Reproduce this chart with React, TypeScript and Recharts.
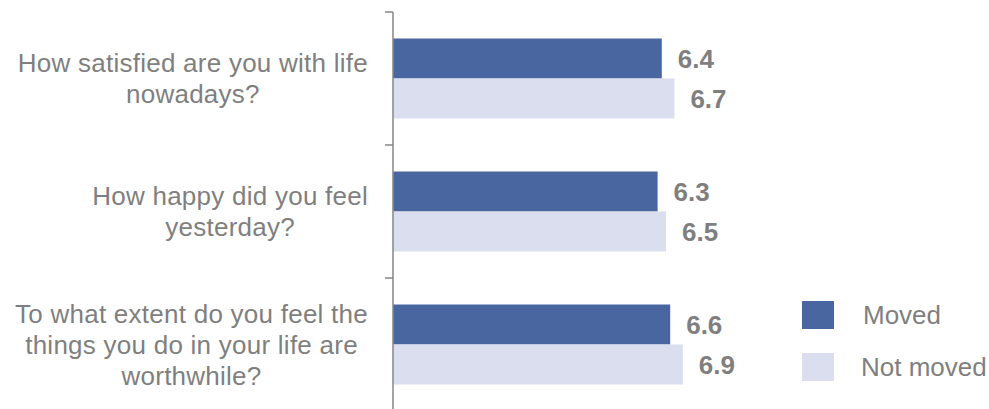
import React from "react";
import { BarChart, Bar, XAxis, YAxis, LabelList, Legend } from "recharts";

const categories = [
  "How satisfied are you with life\nnowadays?",
  "How happy did you feel\nyesterday?",
  "To what extent do you feel the\nthings you do in your life are\nworthwhile?",
];
const movedValues = [6.4, 6.3, 6.6];
const notMovedValues = [6.7, 6.5, 6.9];
const seriesNames = ["Moved", "Not moved"];

const data = categories.map((q, i) => ({ q, moved: movedValues[i], notMoved: notMovedValues[i] }));

const W = 989;
const H = 420;
const MARGIN = { top: 12, right: 176, bottom: 9, left: 0 };
const AXIS_W = 393;
const FONT = "'Liberation Sans', Arial, sans-serif";
const TEXT = "#7f7f7f";
const AXIS = "#868686";
const C_MOVED = "#4a66a0";
const C_NOT = "#dadeef";
const FS = 26;
const LS = 0.25;
const LH = 31;

let ctx: CanvasRenderingContext2D | null = null;
function measure(s: string) {
  if (!ctx) ctx = document.createElement("canvas").getContext("2d");
  if (!ctx) return s.length * FS * 0.5;
  ctx.font = `${FS}px ${FONT}`;
  return ctx.measureText(s).width + LS * s.length;
}

const band = (H - MARGIN.top - MARGIN.bottom) / categories.length;

const CatTick = (props: any) => {
  const { x, y, payload, index } = props;
  const lines = String(payload.value).split("\n");
  const maxW = Math.max(...lines.map(measure));
  const right = x - 25;
  const cx = right - maxW / 2;
  const y0 = y - ((lines.length - 1) * LH) / 2;
  return (
    <g>
      <line x1={x - 8} x2={x} y1={y - band / 2} y2={y - band / 2} stroke={AXIS} strokeWidth={1.5} />
      {index === categories.length - 1 && (
        <line x1={x - 8} x2={x} y1={y + band / 2} y2={y + band / 2} stroke={AXIS} strokeWidth={1.5} />
      )}
      <text x={cx} y={y0} textAnchor="middle" fill={TEXT} fontSize={FS} fontFamily={FONT} letterSpacing={LS}>
        {lines.map((l, i) => (
          <tspan key={i} x={cx} y={y0 + i * LH} dy="0.355em">
            {l}
          </tspan>
        ))}
      </text>
    </g>
  );
};

const LegendContent = () => {
  const colors = [C_MOVED, C_NOT];
  return (
    <div style={{ fontFamily: FONT }}>
      {seriesNames.map((n, i) => (
        <div key={n} style={{ display: "flex", alignItems: "center", height: 52 }}>
          <div style={{ width: 32, height: 28, background: colors[i], marginRight: i === 0 ? 29 : 27 }} />
          <span style={{ fontSize: FS, color: TEXT }}>{n}</span>
        </div>
      ))}
    </div>
  );
};

export default function App() {
  return (
    <div style={{ width: W, height: H, position: "relative" }}>
      <style>{`body{margin:0;overflow:hidden;background:#fff}`}</style>
      <BarChart
        width={W}
        height={H}
        data={data}
        layout="vertical"
        margin={MARGIN}
        barCategoryGap="20%"
        barGap={0}
      >
        <XAxis type="number" domain={[0, 10]} hide />
        <YAxis
          type="category"
          dataKey="q"
          width={AXIS_W}
          axisLine={{ stroke: AXIS, strokeWidth: 1.5 }}
          tickLine={false}
          tickSize={0}
          tickMargin={0}
          tick={<CatTick />}
          interval={0}
        />
        <Legend
          layout="horizontal"
          verticalAlign="middle"
          align="center"
          content={<LegendContent />}
          wrapperStyle={{ left: 802, top: 289, width: 190 }}
        />
        <Bar dataKey="moved" name={seriesNames[0]} fill={C_MOVED} isAnimationActive={false}>
          <LabelList
            dataKey="moved"
            position="right"
            offset={16}
            fill={TEXT}
            fontSize={FS}
            fontWeight="bold"
            fontFamily={FONT}
            formatter={(v: any) => Number(v).toFixed(1)}
          />
        </Bar>
        <Bar dataKey="notMoved" name={seriesNames[1]} fill={C_NOT} isAnimationActive={false}>
          <LabelList
            dataKey="notMoved"
            position="right"
            offset={16}
            fill={TEXT}
            fontSize={FS}
            fontWeight="bold"
            fontFamily={FONT}
            formatter={(v: any) => Number(v).toFixed(1)}
          />
        </Bar>
      </BarChart>
    </div>
  );
}
